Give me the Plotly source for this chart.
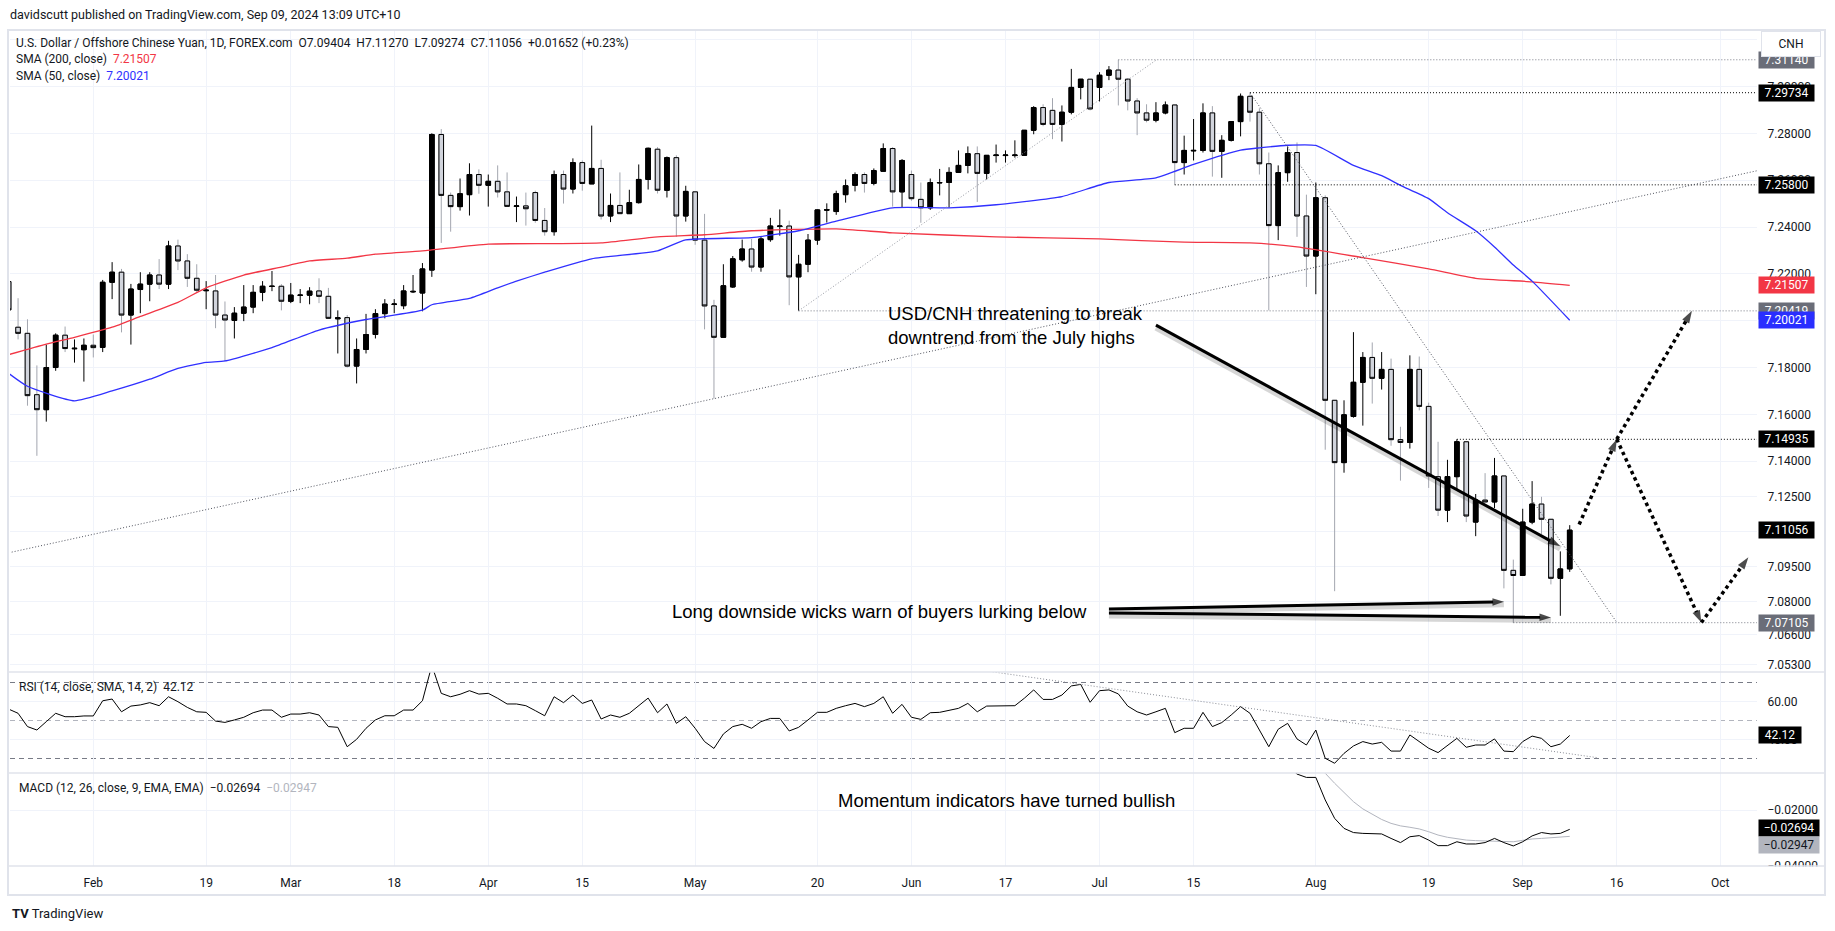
import numpy as np
import pandas as pd
import plotly.graph_objects as go

# ---------------------------------------------------------------- data
dates = [d.strftime("%Y-%m-%d") for d in pd.bdate_range("2024-01-19", "2024-09-09")]

opens = [7.2167, 7.1972, 7.1946, 7.1684, 7.1620, 7.1800, 7.1938, 7.1880, 7.1876, 7.1895,
         7.1886, 7.2164, 7.2207, 7.2024, 7.2133, 7.2156, 7.2195, 7.2156, 7.2319, 7.2255,
         7.2181, 7.2128, 7.2127, 7.2024, 7.2001, 7.2032, 7.2058, 7.2121, 7.2146, 7.2147,
         7.2083, 7.2108, 7.2109, 7.2127, 7.2104, 7.2008, 7.2013, 7.1806, 7.1877, 7.1941,
         7.2030, 7.2069, 7.2064, 7.2123, 7.2118, 7.2216, 7.2795, 7.2535, 7.2487, 7.2538,
         7.2624, 7.2578, 7.2595, 7.2550, 7.2488, 7.2490, 7.2547, 7.2428, 7.2380, 7.2624,
         7.2562, 7.2675, 7.2584, 7.2650, 7.2447, 7.2492, 7.2457, 7.2504, 7.2603, 7.2732,
         7.2557, 7.2696, 7.2447, 7.2550, 7.2344, 7.2063, 7.1929, 7.2144, 7.2260, 7.2306,
         7.2229, 7.2346, 7.2402, 7.2404, 7.2187, 7.2241, 7.2344, 7.2472, 7.2466, 7.2538,
         7.2578, 7.2624, 7.2586, 7.2638, 7.2735, 7.2550, 7.2624, 7.2518, 7.2482, 7.2588,
         7.2590, 7.2633, 7.2663, 7.2713, 7.2629, 7.2705, 7.2705, 7.2705, 7.2706, 7.2813,
         7.2910, 7.2898, 7.2838, 7.2890, 7.2996, 7.3031, 7.2996, 7.3048, 7.3070, 7.3031,
         7.2938, 7.2887, 7.2856, 7.2887, 7.2921, 7.2675, 7.2725, 7.2727, 7.2887, 7.2723,
         7.2770, 7.2850, 7.2958, 7.2890, 7.2670, 7.2406, 7.2632, 7.2718, 7.2447, 7.2276,
         7.2525, 7.1660, 7.1394, 7.1591, 7.1737, 7.1843, 7.1754, 7.1792, 7.1492, 7.1480,
         7.1792, 7.1634, 7.1334, 7.1191, 7.1334, 7.1483, 7.1140, 7.1234, 7.1226, 7.1337,
         7.0934, 7.0912, 7.1140, 7.1217, 7.1152, 7.0900, 7.09404]

highs = [7.2180, 7.2096, 7.2006, 7.1809, 7.1898, 7.1946, 7.1975, 7.1920, 7.1924, 7.1941,
         7.2174, 7.2250, 7.2221, 7.2157, 7.2207, 7.2207, 7.2263, 7.2341, 7.2346, 7.2284,
         7.2241, 7.2169, 7.2195, 7.2082, 7.2058, 7.2152, 7.2152, 7.2169, 7.2212, 7.2156,
         7.2161, 7.2135, 7.2143, 7.2181, 7.2140, 7.2044, 7.2024, 7.1924, 7.2029, 7.2049,
         7.2092, 7.2092, 7.2152, 7.2195, 7.2246, 7.2800, 7.2818, 7.2547, 7.2607, 7.2672,
         7.2646, 7.2624, 7.2663, 7.2633, 7.2530, 7.2547, 7.2555, 7.2481, 7.2641, 7.2641,
         7.2693, 7.2684, 7.2833, 7.2687, 7.2543, 7.2633, 7.2559, 7.2667, 7.2739, 7.2741,
         7.2701, 7.2706, 7.2576, 7.2550, 7.2456, 7.2089, 7.2241, 7.2276, 7.2346, 7.2349,
         7.2358, 7.2439, 7.2475, 7.2427, 7.2281, 7.2370, 7.2475, 7.2501, 7.2555, 7.2603,
         7.2633, 7.2633, 7.2650, 7.2757, 7.2741, 7.2690, 7.2641, 7.2590, 7.2607, 7.2648,
         7.2655, 7.2727, 7.2744, 7.2744, 7.2706, 7.2752, 7.2727, 7.2770, 7.2813, 7.2916,
         7.2924, 7.2950, 7.2919, 7.3075, 7.3031, 7.3031, 7.3061, 7.3087, 7.3114, 7.3036,
         7.2950, 7.2924, 7.2933, 7.2936, 7.2921, 7.2790, 7.2861, 7.2928, 7.2916, 7.2792,
         7.2852, 7.2970, 7.29734, 7.2907, 7.2718, 7.2663, 7.2744, 7.2761, 7.2538, 7.2590,
         7.2535, 7.1660, 7.1660, 7.1951, 7.1866, 7.1907, 7.1866, 7.1838, 7.1547, 7.1852,
         7.1847, 7.1650, 7.1483, 7.1406, 7.14935, 7.1483, 7.1260, 7.1349, 7.1414, 7.1337,
         7.0980, 7.1197, 7.1315, 7.1248, 7.1152, 7.1015, 7.11270]

lows = [7.2040, 7.1920, 7.1637, 7.1423, 7.1569, 7.1786, 7.1866, 7.1821, 7.1740, 7.1843,
        7.1866, 7.2092, 7.1950, 7.1898, 7.2032, 7.2083, 7.2135, 7.2135, 7.2216, 7.2144,
        7.2118, 7.2049, 7.1968, 7.1826, 7.1924, 7.1998, 7.2032, 7.2083, 7.2126, 7.2044,
        7.2075, 7.2075, 7.2070, 7.2075, 7.2008, 7.1860, 7.1800, 7.1732, 7.1860, 7.1924,
        7.2010, 7.2032, 7.2049, 7.2118, 7.2040, 7.2187, 7.2332, 7.2380, 7.2470, 7.2449,
        7.2542, 7.2487, 7.2526, 7.2487, 7.2421, 7.2406, 7.2418, 7.2363, 7.2363, 7.2500,
        7.2543, 7.2555, 7.2584, 7.2432, 7.2421, 7.2457, 7.2457, 7.2500, 7.2560, 7.2543,
        7.2526, 7.2358, 7.2423, 7.2324, 7.1963, 7.1667, 7.1929, 7.2140, 7.2252, 7.2209,
        7.2209, 7.2337, 7.2363, 7.2066, 7.2042, 7.2207, 7.2324, 7.2419, 7.2452, 7.2504,
        7.2552, 7.2547, 7.2578, 7.2638, 7.2487, 7.2483, 7.2512, 7.2418, 7.2473, 7.2535,
        7.2483, 7.2633, 7.2629, 7.2507, 7.2603, 7.2675, 7.2675, 7.2696, 7.2706, 7.2796,
        7.2830, 7.2775, 7.2765, 7.2881, 7.2945, 7.2898, 7.2936, 7.3027, 7.2919, 7.2898,
        7.2792, 7.2847, 7.2847, 7.2881, 7.2580, 7.2624, 7.2684, 7.2718, 7.2615, 7.2610,
        7.2765, 7.2787, 7.2850, 7.2624, 7.2044, 7.2344, 7.2593, 7.2358, 7.2144, 7.2113,
        7.1449, 7.0845, 7.1351, 7.1586, 7.1552, 7.1646, 7.1706, 7.1466, 7.1317, 7.1454,
        7.1617, 7.1286, 7.1166, 7.1140, 7.1277, 7.1140, 7.1080, 7.1226, 7.1200, 7.0857,
        7.07105, 7.0912, 7.1131, 7.1088, 7.0874, 7.0740, 7.09274]

closes = [7.2046, 7.1946, 7.1680, 7.1620, 7.1800, 7.1938, 7.1881, 7.1882, 7.1895, 7.1885,
          7.2164, 7.2207, 7.2024, 7.2135, 7.2156, 7.2195, 7.2156, 7.2319, 7.2255, 7.2181,
          7.2130, 7.2130, 7.2024, 7.2003, 7.2032, 7.2058, 7.2121, 7.2147, 7.2147, 7.2083,
          7.2109, 7.2109, 7.2126, 7.2104, 7.2010, 7.2012, 7.1806, 7.1877, 7.1941, 7.2030,
          7.2071, 7.2071, 7.2127, 7.2125, 7.2221, 7.2795, 7.2535, 7.2487, 7.2542, 7.2624,
          7.2578, 7.2595, 7.2550, 7.2488, 7.2490, 7.2478, 7.2428, 7.2380, 7.2624, 7.2562,
          7.2675, 7.2586, 7.2650, 7.2447, 7.2492, 7.2457, 7.2504, 7.2603, 7.2736, 7.2557,
          7.2696, 7.2447, 7.2552, 7.2344, 7.2063, 7.1929, 7.2149, 7.2264, 7.2306, 7.2229,
          7.2349, 7.2404, 7.2404, 7.2187, 7.2241, 7.2344, 7.2473, 7.2474, 7.2542, 7.2576,
          7.2624, 7.2586, 7.2641, 7.2735, 7.2550, 7.2684, 7.2521, 7.2482, 7.2590, 7.2590,
          7.2633, 7.2663, 7.2713, 7.2629, 7.2706, 7.2707, 7.2707, 7.2707, 7.2813, 7.2910,
          7.2838, 7.2838, 7.2890, 7.2996, 7.3031, 7.2904, 7.3048, 7.3070, 7.3031, 7.2938,
          7.2887, 7.2856, 7.2887, 7.2921, 7.2675, 7.2727, 7.2727, 7.2887, 7.2723, 7.2770,
          7.2850, 7.2958, 7.2890, 7.2670, 7.2406, 7.2632, 7.2718, 7.2447, 7.2276, 7.2525,
          7.1660, 7.1394, 7.1598, 7.1737, 7.1843, 7.1754, 7.1792, 7.1492, 7.1480, 7.1792,
          7.1634, 7.1337, 7.1191, 7.1334, 7.1483, 7.1166, 7.1234, 7.1226, 7.1337, 7.0934,
          7.0912, 7.1140, 7.1217, 7.1152, 7.0900, 7.0940, 7.11056]

sma200_dates = ["2024-01-19", "2024-01-25", "2024-01-30", "2024-02-05", "2024-02-08", "2024-02-14",
                "2024-02-19", "2024-02-23", "2024-02-29", "2024-03-05", "2024-03-11", "2024-03-14",
                "2024-03-21", "2024-04-01", "2024-04-10", "2024-04-17", "2024-04-25", "2024-05-02",
                "2024-05-09", "2024-05-22", "2024-05-30", "2024-06-14", "2024-07-01", "2024-07-12",
                "2024-07-23", "2024-07-30", "2024-08-08", "2024-08-19", "2024-08-26", "2024-09-03",
                "2024-09-09"]
sma200_vals = [7.1855, 7.1900, 7.1929, 7.1972, 7.2018, 7.2078, 7.2140, 7.2195, 7.2229, 7.2255,
               7.2267, 7.2284, 7.2298, 7.2327, 7.2329, 7.2332, 7.2358, 7.2367, 7.2384, 7.2392,
               7.2375, 7.2358, 7.2349, 7.2335, 7.2332, 7.2315, 7.2269, 7.2221, 7.2181, 7.2166,
               7.21507]

sma50_dates = ["2024-01-19", "2024-01-23", "2024-01-30", "2024-02-05", "2024-02-09", "2024-02-14",
               "2024-02-19", "2024-02-21", "2024-02-28", "2024-03-06", "2024-03-13", "2024-03-21",
               "2024-03-22", "2024-03-28", "2024-04-02", "2024-04-04", "2024-04-09", "2024-04-16",
               "2024-04-25", "2024-04-30", "2024-05-09", "2024-05-16", "2024-05-22", "2024-05-30",
               "2024-06-07", "2024-06-14", "2024-06-25", "2024-07-02", "2024-07-09", "2024-07-15",
               "2024-07-22", "2024-07-24", "2024-07-29", "2024-08-01", "2024-08-07", "2024-08-12",
               "2024-08-14", "2024-08-19", "2024-08-21", "2024-08-26", "2024-08-28", "2024-08-30",
               "2024-09-03", "2024-09-09"]
sma50_vals = [7.1775, 7.1720, 7.1658, 7.1700, 7.1750, 7.1796, 7.1822, 7.1828, 7.1885, 7.1960,
              7.2005, 7.2045, 7.2068, 7.2095, 7.2140, 7.2169, 7.2207, 7.2264, 7.2298, 7.2345,
              7.2355, 7.2384, 7.2425, 7.2482, 7.2482, 7.2495, 7.2530, 7.2590, 7.2610, 7.2667,
              7.2728, 7.2738, 7.2749, 7.2748, 7.2663, 7.2619, 7.2578, 7.2521, 7.2461, 7.2384,
              7.2315, 7.2238, 7.2169, 7.20021]

rsi_vals = [56.0, 53.8, 46.8, 45.0, 49.4, 53.8, 52.0, 52.0, 52.4, 52.4,
            60.4, 61.3, 54.6, 57.6, 58.2, 59.4, 57.8, 62.5, 59.9, 56.9,
            54.6, 54.3, 49.7, 49.0, 50.3, 51.7, 54.1, 55.5, 55.5, 51.7,
            53.4, 53.4, 54.1, 52.9, 46.8, 46.4, 36.2, 40.1, 45.9, 50.3,
            52.5, 52.5, 55.5, 55.5, 60.4, 79.0, 64.3, 62.5, 63.8, 65.7,
            63.9, 64.3, 61.7, 58.7, 58.7, 57.8, 55.2, 52.5, 62.5, 59.4,
            63.4, 59.0, 60.8, 50.8, 52.9, 51.7, 53.8, 57.8, 61.8, 54.1,
            58.7, 48.5, 52.0, 45.9, 38.9, 35.3, 42.9, 46.8, 48.0, 45.9,
            49.4, 51.1, 51.1, 44.5, 46.4, 50.3, 54.3, 54.3, 56.4, 57.8,
            59.0, 57.3, 59.0, 62.5, 53.8, 58.5, 51.7, 50.6,
            54.1, 54.3, 55.5, 56.4, 59.0, 54.6, 57.6, 57.6, 57.6, 57.8,
            61.7, 66.1, 61.1, 61.1, 63.4, 68.2, 69.0, 59.6, 65.7, 66.1,
            64.0, 57.6, 54.6, 52.9, 54.6, 56.4, 43.6, 45.9, 45.9, 54.3,
            46.8, 48.9, 52.9, 57.3, 53.8, 45.0, 36.2, 45.4, 48.5, 40.3,
            37.1, 45.0, 30.1, 27.5, 32.7, 36.6, 38.9, 37.6, 38.5, 33.9,
            33.9, 42.4, 38.9, 35.4, 33.1, 36.8, 40.6, 35.9, 37.1, 37.1,
            40.3, 33.9, 33.6, 38.9, 41.8, 40.6, 36.2, 37.6, 42.12]

macd_start = "2024-07-29"
macd_vals = [-0.0040, -0.0071, -0.0083, -0.0083, -0.0164, -0.0230, -0.0266, -0.0281, -0.0284, -0.0286,
             -0.0286, -0.0302, -0.0317, -0.0296, -0.0292, -0.0308, -0.0328, -0.0328, -0.0314, -0.0322,
             -0.0322, -0.0317, -0.0302, -0.0317, -0.0329, -0.0314, -0.0293, -0.0281, -0.0286, -0.0284,
             -0.02694]
signal_start = "2024-08-01"
signal_vals = [-0.0040, -0.0068, -0.0104, -0.0138, -0.0170, -0.0196, -0.0216, -0.0234, -0.0248, -0.0257,
               -0.0262, -0.0268, -0.0278, -0.0290, -0.0298, -0.0304, -0.0308, -0.0310, -0.0311, -0.0311,
               -0.0314, -0.0314, -0.0309, -0.0304, -0.0302, -0.0299, -0.0296, -0.02947]

tick_dates = ["2024-02-01", "2024-02-19", "2024-03-01", "2024-03-18", "2024-04-01", "2024-04-15",
              "2024-05-01", "2024-05-20", "2024-06-03", "2024-06-17", "2024-07-01", "2024-07-15",
              "2024-08-01", "2024-08-19", "2024-09-02", "2024-09-16", "2024-10-01"]
tick_labels = ["Feb", "19", "Mar", "18", "Apr", "15", "May", "20", "Jun", "17", "Jul", "15",
               "Aug", "19", "Sep", "16", "Oct"]
price_ticks = [7.32, 7.30, 7.28, 7.26, 7.24, 7.22, 7.20, 7.18, 7.16, 7.14, 7.125, 7.11,
               7.095, 7.08, 7.066, 7.053]
rsi_ticks = [40, 60]
rsi_levels = [70, 50, 30]
macd_ticks = [-0.04, -0.02]

# drawings (chart annotations): anchors as (date, value)
level_starts = ["2024-07-03", "2024-07-23", "2024-07-11", "2024-05-16", "2024-08-22", "2024-08-30"]
level_prices = [7.31140, 7.29734, 7.25800, 7.20419, 7.14935, 7.07105]
level_kinds = ["gray", "black", "black", "gray", "black", "gray"]

long_trend = [("2024-05-03", 7.1667), ("2024-08-29", 7.2404)]       # extended both ways
rise_trend = [("2024-05-16", 7.2042), ("2024-07-09", 7.3112)]
fall_trend = [("2024-07-23", 7.2973), ("2024-09-16", 7.0712)]
rsi_trend = [("2024-06-13", 76.05), ("2024-09-12", 30.4)]
break_arrow = [("2024-07-09", 7.1981), ("2024-09-06", 7.1037)]
wick_arrows = [[("2024-07-02", 7.0769), ("2024-08-29", 7.0800)],
               [("2024-07-02", 7.0752), ("2024-09-05", 7.0733)]]
path_arrows = [[("2024-09-10", 7.1130), ("2024-09-16", 7.1494)],
               [("2024-09-16", 7.1494), ("2024-09-26", 7.2042)],
               [("2024-09-16", 7.1494), ("2024-09-27", 7.0711)],
               [("2024-09-27", 7.0711), ("2024-10-04", 7.0990)]]

# ---------------------------------------------------------------- helpers
BASE = "2024-02-01"


def bidx(d):
    return int(np.busday_count(BASE, d))


xi = [bidx(d) for d in dates]

W, H = 1835, 931
PL, PR, PT, PB = 10, 1757, 30, 866
PW, PH = PR - PL, PB - PT
BAR0_PX, BAR_W = 93.3, 9.404
XMIN = (PL - BAR0_PX) / BAR_W
XMAX = (PR - BAR0_PX) / BAR_W
PRICE_RANGE = [7.0500, 7.32411]
PX_PER_PRICE = (672 - PT) / (PRICE_RANGE[1] - PRICE_RANGE[0])


def pxx(x):
    return (x - PL) / PW


def pyy(y):
    return (PB - y) / PH


D_PRICE = [(PB - 672) / PH, 1.0]
D_RSI = [(PB - 773) / PH, (PB - 672) / PH]
D_MACD = [0.0, (PB - 773) / PH]

TXT = "#131722"
GRID = "#f0f3fa"
AXF = "Roboto, 'Liberation Sans', sans-serif"
ANF = "'Liberation Sans', Arial, sans-serif"
GRAYLBL = "#6a6d78"
DOT = "1px,2px"

hi = [max(h, o, c) for h, o, c in zip(highs, opens, closes)]
lo = [min(l, o, c) for l, o, c in zip(lows, opens, closes)]
body_hi = [max(o, c) for o, c in zip(opens, closes)]
body_lo = [min(o, c) for o, c in zip(opens, closes)]

fig = go.Figure()

# candles: full range (wicks) then bodies with black borders
fig.add_trace(go.Candlestick(
    x=xi, open=opens, high=hi, low=lo, close=closes, whiskerwidth=0,
    increasing=dict(line=dict(color="#000000", width=1), fillcolor="#000000"),
    decreasing=dict(line=dict(color="#a3a6af", width=1), fillcolor="#d1d4dc"),
    showlegend=False, xaxis="x", yaxis="y"))
fig.add_trace(go.Candlestick(
    x=xi, open=opens, high=body_hi, low=body_lo, close=closes, whiskerwidth=0,
    increasing=dict(line=dict(color="#000000", width=1), fillcolor="#000000"),
    decreasing=dict(line=dict(color="#000000", width=1), fillcolor="#d1d4dc"),
    showlegend=False, xaxis="x", yaxis="y"))

# moving averages
fig.add_trace(go.Scatter(x=[bidx(d) for d in sma200_dates], y=sma200_vals, mode="lines",
                         line=dict(color="#f23645", width=1.3, shape="spline", smoothing=0.5),
                         showlegend=False, hoverinfo="skip"))
fig.add_trace(go.Scatter(x=[bidx(d) for d in sma50_dates], y=sma50_vals, mode="lines",
                         line=dict(color="#3030ff", width=1.3, shape="spline", smoothing=0.5),
                         showlegend=False, hoverinfo="skip"))


def line_trace(p0, p1, color, width, dash=None, yaxis="y", arrow=False, asize=12, extend=False,
               shadow=False):
    x0, y0 = bidx(p0[0]), p0[1]
    x1, y1 = bidx(p1[0]), p1[1]
    if extend:
        k = (y1 - y0) / (x1 - x0)
        xs = [XMIN - 2, XMAX + 2]
        ys = [y0 + k * (xs[0] - x0), y0 + k * (xs[1] - x0)]
    else:
        xs, ys = [x0, x1], [y0, y1]
    if shadow:
        off = 2.5 / PX_PER_PRICE
        fig.add_trace(go.Scatter(x=xs, y=[v - off for v in ys], mode="lines",
                                 line=dict(color="rgba(0,0,0,0.16)", width=width + 3),
                                 showlegend=False, hoverinfo="skip", yaxis=yaxis))
    ln = dict(color=color, width=width)
    if dash:
        ln["dash"] = dash
    kw = dict(x=xs, y=ys, line=ln, showlegend=False, hoverinfo="skip", yaxis=yaxis)
    if arrow:
        kw.update(mode="lines+markers",
                  marker=dict(symbol=["circle", "arrow"], size=[0, asize], color=color,
                              angleref="previous", line=dict(width=0)))
    else:
        kw.update(mode="lines")
    fig.add_trace(go.Scatter(**kw))


# horizontal levels
for d, p, k in zip(level_starts, level_prices, level_kinds):
    col = "#000000" if k == "black" else "#787b86"
    fig.add_trace(go.Scatter(x=[bidx(d), XMAX + 2], y=[p, p], mode="lines",
                             line=dict(color=col, width=1, dash=DOT),
                             showlegend=False, hoverinfo="skip"))

line_trace(*long_trend, color="#50535e", width=1, dash=DOT, extend=True)
line_trace(*rise_trend, color="#9598a1", width=1, dash=DOT)
line_trace(*fall_trend, color="#50535e", width=1, dash=DOT)

# bold arrows
line_trace(*break_arrow, color="#000000", width=3, arrow=True, asize=13, shadow=True)
for a in wick_arrows:
    line_trace(*a, color="#000000", width=3, arrow=True, asize=12, shadow=True)
for a in path_arrows:
    line_trace(*a, color="#000000", width=3.5, dash="dot", arrow=True, asize=13)

# RSI pane
fig.add_trace(go.Scatter(x=xi, y=rsi_vals, mode="lines", line=dict(color="#000000", width=1),
                         yaxis="y2", showlegend=False, hoverinfo="skip"))
line_trace(*rsi_trend, color="#8a8d96", width=1, dash=DOT, yaxis="y2")

# MACD pane
mi = dates.index(macd_start)
si = dates.index(signal_start)
fig.add_trace(go.Scatter(x=xi[si:], y=signal_vals, mode="lines", line=dict(color="#b2b5be", width=1),
                         yaxis="y3", showlegend=False, hoverinfo="skip"))
fig.add_trace(go.Scatter(x=xi[mi:], y=macd_vals, mode="lines", line=dict(color="#000000", width=1),
                         yaxis="y3", showlegend=False, hoverinfo="skip"))

# ---------------------------------------------------------------- shapes
shapes = []
for lv in rsi_levels:
    shapes.append(dict(type="line", xref="paper", x0=0, x1=1, yref="y2", y0=lv, y1=lv,
                       line=dict(color="#787b86" if lv != 50 else "#b2b5be", width=1, dash="5px,4px"),
                       layer="below"))
# white cover for the cut bottom axis label
shapes.append(dict(type="rect", xref="paper", yref="paper", x0=pxx(PR), x1=pxx(1823),
                   y0=pyy(894), y1=pyy(PB + 0.5), fillcolor="white", line=dict(width=0), layer="above"))
for yy in (672, 773, PB):
    shapes.append(dict(type="line", xref="paper", yref="paper", x0=pxx(9), x1=pxx(1824),
                       y0=pyy(yy), y1=pyy(yy), line=dict(color="#e0e3eb", width=1.5), layer="above"))
shapes.append(dict(type="rect", xref="paper", yref="paper", x0=pxx(8), x1=pxx(1825),
                   y0=pyy(895), y1=pyy(30), line=dict(color="#e0e3eb", width=2), layer="above"))

# ---------------------------------------------------------------- annotations
ann = []


def text(x, y, s, size=12, color=TXT, family=AXF, xanchor="left", align="left"):
    ann.append(dict(x=pxx(x), y=pyy(y), xref="paper", yref="paper", text=s, showarrow=False,
                    xanchor=xanchor, yanchor="middle", align=align,
                    font=dict(size=size, color=color, family=family)))


def box(val, bg, yref="y", fg="white", s=None, width=53, ypaper=None):
    d = dict(x=pxx(1758), xref="paper", xanchor="left", yanchor="middle",
             text=s if s is not None else f"{val:.5f}", showarrow=False, bgcolor=bg,
             font=dict(color=fg, size=12, family=AXF), width=width, height=14, borderpad=1,
             align="center")
    if ypaper is not None:
        d.update(y=pyy(ypaper), yref="paper")
    else:
        d.update(y=val, yref=yref)
    ann.append(d)


NB = "\u00a0\u00a0"
text(8, 15, "davidscutt published on TradingView.com, Sep 09, 2024 13:09 UTC+10", size=12.5)
text(14, 43, "U.S. Dollar / Offshore Chinese Yuan, 1D, FOREX.com" + NB + "O7.09404" + NB + "H7.11270"
     + NB + "L7.09274" + NB + "C7.11056" + NB + "+0.01652 (+0.23%)")
text(14, 59, "SMA (200, close)" + NB + "<span style='color:#f23645'>7.21507</span>")
text(14, 76, "SMA (50, close)" + NB + "<span style='color:#3030ff'>7.20021</span>")
text(17, 687, "RSI (14, close, SMA, 14, 2)" + NB + "42.12")
text(17, 788, "MACD (12, 26, close, 9, EMA, EMA)" + NB + "\u22120.02694" + NB
     + "<span style='color:#b2b5be'>\u22120.02947</span>")

text(886, 325, "USD/CNH threatening to break<br>downtrend from the July highs", size=18.5,
     color="#000000", family=ANF)
text(670, 611, "Long downside wicks warn of buyers lurking below", size=18.5, color="#000000", family=ANF)
text(836, 800, "Momentum indicators have turned bullish", size=18.5, color="#000000", family=ANF)
text(10, 913, "<b>TV</b> TradingView", size=13, color="#131722")

# right-axis value labels
for p, k in zip(level_prices, level_kinds):
    if p in (7.20419,):
        continue
    box(p, "#000000" if k == "black" else GRAYLBL)
box(7.21507, "#f23645")
box(7.20419, GRAYLBL)
box(7.20021, "#2a2eff")
box(7.11056, "#000000")
box(42.12, "#000000", yref="y2", s="42.12", width=40)
box(None, "#000000", s="\u22120.02694", width=58, ypaper=828)
box(None, "#b2b5be", fg=TXT, s="\u22120.02947", width=58, ypaper=845)

# currency box (on top)
ann.append(dict(x=pxx(1761), y=pyy(44), xref="paper", yref="paper", text="CNH", showarrow=False,
                xanchor="left", yanchor="middle", bgcolor="white", bordercolor="#e0e3eb",
                borderwidth=1, borderpad=2, width=54, height=20,
                font=dict(size=12, color=TXT, family=AXF)))

axis_common = dict(showline=False, zeroline=False, fixedrange=True, gridcolor=GRID, gridwidth=1,
                   ticks="outside", tickcolor="rgba(0,0,0,0)",
                   tickfont=dict(size=12, color=TXT, family=AXF))

fig.update_layout(
    width=W, height=H, margin=dict(l=PL, r=W - PR, t=PT, b=H - PB),
    paper_bgcolor="white", plot_bgcolor="white", showlegend=False, hovermode=False,
    xaxis=dict(domain=[0, 1], range=[XMIN, XMAX], anchor="y3", tickmode="array",
               tickvals=[bidx(d) for d in tick_dates], ticktext=tick_labels, ticklen=6,
               rangeslider=dict(visible=False), showgrid=True, **axis_common),
    yaxis=dict(domain=D_PRICE, range=PRICE_RANGE, side="right", anchor="x", tickmode="array",
               tickvals=price_ticks, ticktext=[f"{v:.5f}" for v in price_ticks], ticklen=7,
               showgrid=True, **axis_common),
    yaxis2=dict(domain=D_RSI, range=[22.37, 75.53], side="right", anchor="x", tickmode="array",
                tickvals=rsi_ticks, ticktext=[f"{v:.2f}" for v in rsi_ticks], ticklen=7,
                showgrid=True, **axis_common),
    yaxis3=dict(domain=D_MACD, range=[-0.040108, -0.006714], side="right", anchor="x",
                tickmode="array", tickvals=macd_ticks,
                ticktext=["\u2212" + f"{abs(v):.5f}" for v in macd_ticks], ticklen=7,
                showgrid=True, **axis_common),
    shapes=shapes, annotations=ann,
)

fig.write_html("out.html")
